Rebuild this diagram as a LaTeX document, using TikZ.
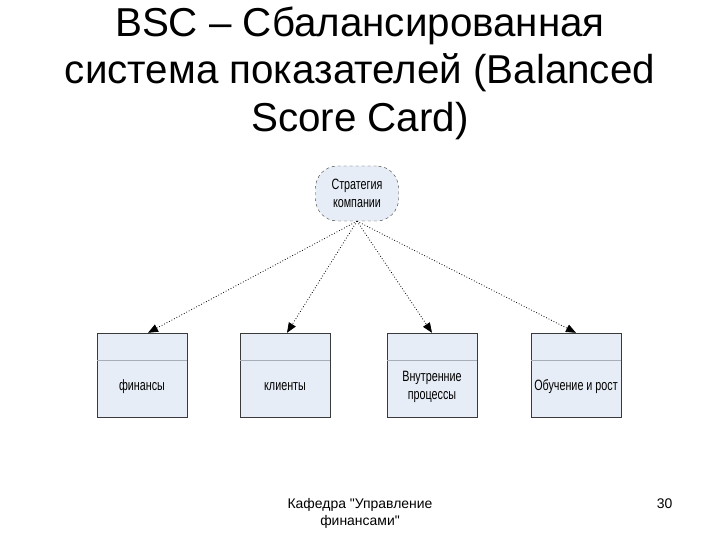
\documentclass[tikz,border=0pt]{standalone}
\usepackage{fontspec}
\setmainfont{Liberation Sans}
\newfontfamily\narrowfont[FakeStretch=0.72]{Liberation Sans}
\usetikzlibrary{arrows.meta,positioning,calc}
\definecolor{cBox}{HTML}{E7EDF6}
\definecolor{cLine}{HTML}{3A3A3A}
\definecolor{cSep}{HTML}{A8AEB8}
\tikzset{
  strat/.style={rounded corners=22bp,draw=cLine,dashed,fill=cBox,
                minimum width=83bp,minimum height=55bp,inner sep=0pt,
                align=center,font=\narrowfont\fontsize{15}{18}\selectfont},
  persp/.style={draw=cLine,fill=cBox,minimum width=90bp,minimum height=84bp,
                inner sep=0pt},
  plabel/.style={align=center,font=\narrowfont\fontsize{15}{18}\selectfont},
  sepline/.style={cSep,line width=0.8bp},
  linkarrow/.style={-{Triangle[length=10bp,width=8bp]},dotted,line width=0.8bp,black},
}

\begin{document}
\begin{tikzpicture}[x=1bp,y=-1bp]
  \useasboundingbox (0,0) rectangle (720,540);
  % title
  \node[anchor=north,align=center,font=\fontsize{40.5}{48}\selectfont] (title) at (360,3)
    {BSC -- Сбалансированная\\система показателей (Balanced\\Score Card)};
  % strategy
  \node[strat] (s) at (357,193.5) {Стратегия\\компании};
  % four perspectives
  \node[persp] (b1) at (142,375) {};
  \node[persp] (b2) at (285,375) {};
  \node[persp] (b3) at (432,375) {};
  \node[persp] (b4) at (576,375) {};
  \foreach \b in {b1,b2,b3,b4}
    \draw[sepline] ($(\b.north west)+(0.5,28)$) -- ($(\b.north east)+(-0.5,28)$);
  \node[plabel] (l1) at ($(b1.center)+(0,12)$) {финансы};
  \node[plabel] (l2) at ($(b2.center)+(0,12)$) {клиенты};
  \node[plabel] (l3) at ($(b3.center)+(0,12)$) {Внутренние\\процессы};
  \node[plabel] (l4) at ($(b4.center)+(0,12)$) {Обучение и рост};
  % links
  \draw[linkarrow] (s.south) -- ([xshift=6bp]b1.north);
  \draw[linkarrow] (s.south) -- ([xshift=2bp]b2.north);
  \draw[linkarrow] (s.south) -- (b3.north);
  \draw[linkarrow] (s.south) -- (b4.north);
  % footer
  \node[align=center,font=\fontsize{14}{17}\selectfont] (foot) at (360,513)
    {Кафедра \textquotedbl Управление\\финансами\textquotedbl};
  \node[font=\fontsize{14}{17}\selectfont,anchor=east] (page) at (676,504) {30};
\end{tikzpicture}
\end{document}
